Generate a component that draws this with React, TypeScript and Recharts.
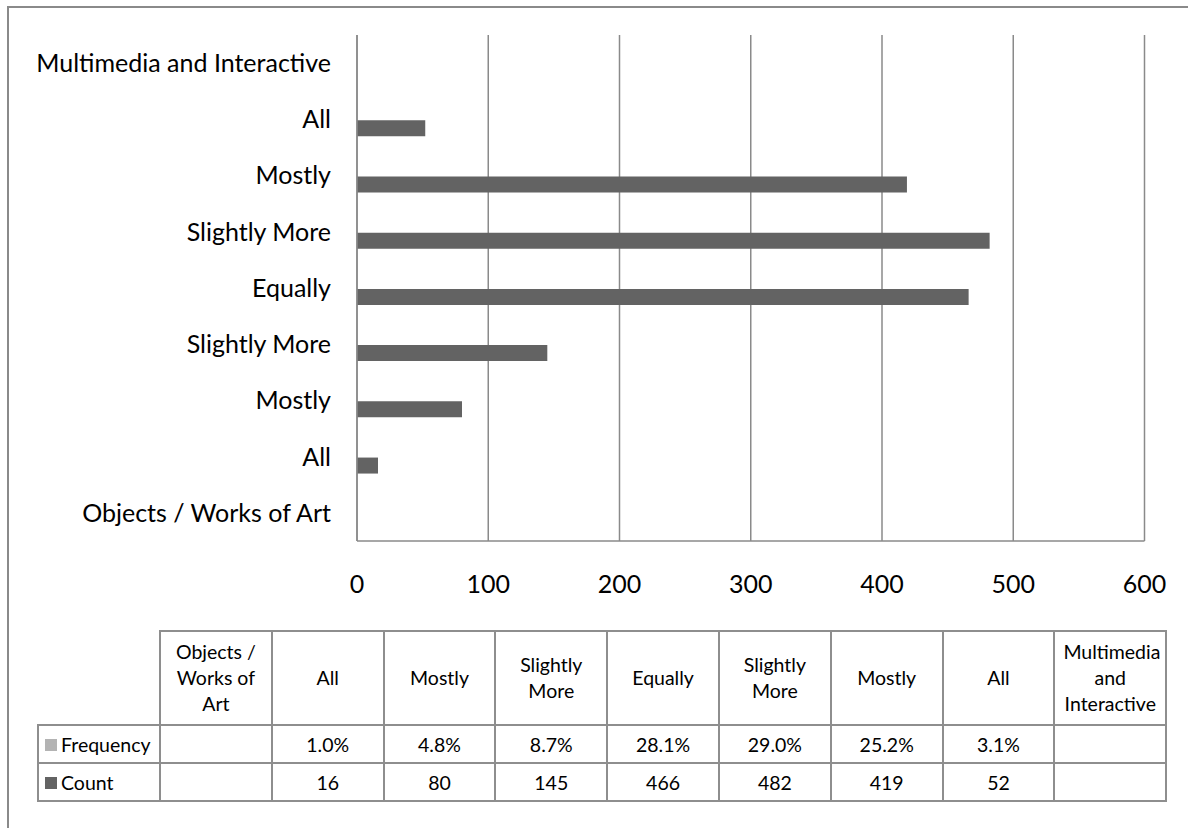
import React from 'react';
import { BarChart, Bar, XAxis, YAxis, CartesianGrid } from 'recharts';

const categories = [
  'Objects / Works of Art',
  'All',
  'Mostly',
  'Slightly More',
  'Equally',
  'Slightly More',
  'Mostly',
  'All',
  'Multimedia and Interactive',
];
const countValues: (number | null)[] = [null, 16, 80, 145, 466, 482, 419, 52, null];
const frequencyValues: (number | null)[] = [null, 0.01, 0.048, 0.087, 0.281, 0.29, 0.252, 0.031, null];
const xTicks = [0, 100, 200, 300, 400, 500, 600];
const seriesNames = ['Frequency', 'Count'];
const seriesColors = ['#b3b3b3', '#636363'];

const data = categories.map((name, i) => ({
  id: i,
  name,
  Frequency: frequencyValues[i],
  Count: countValues[i],
}));

const FONT = 'Lato, "Open Sans", sans-serif';
const GRID = '#8a8a8a';
const cellBorder = '2px solid #8e8e8e';

const fmtFreq = (v: number | null) => (v == null ? '' : (v * 100).toFixed(1) + '%');
const fmtCount = (v: number | null) => (v == null ? '' : String(v));

export default function App() {
  return (
    <div style={{ position: 'absolute', left: 0, top: 0, width: 1188, height: 828, background: '#fff', overflow: 'hidden' }}>
      <div
        style={{
          position: 'absolute',
          left: 7,
          top: 6,
          width: 1200,
          height: 840,
          borderTop: '2px solid #8a8a8a',
          borderLeft: '2px solid #8a8a8a',
        }}
      />
      <div style={{ position: 'absolute', left: 0, top: 0 }}>
        <BarChart
          width={1188}
          height={601}
          data={data}
          layout="vertical"
          margin={{ top: 35, right: 43.5, left: 0, bottom: 0 }}
          barSize={16}
          barGap={1}
        >
          <CartesianGrid horizontal={false} vertical={true} stroke={GRID} strokeWidth={1.5} />
          <XAxis
            type="number"
            domain={[0, 600]}
            ticks={xTicks}
            interval={0}
            height={60}
            axisLine={{ stroke: GRID, strokeWidth: 1.5 }}
            tickLine={false}
            tickSize={0}
            tickMargin={34}
            tick={{ fill: '#000', fontSize: 25, fontFamily: FONT }}
          />
          <YAxis
            type="category"
            dataKey="id"
            reversed
            width={357}
            interval={0}
            tickFormatter={(v: number) => categories[v]}
            axisLine={{ stroke: GRID, strokeWidth: 1.5 }}
            tickLine={false}
            tickSize={0}
            tickMargin={26}
            tick={{ fill: '#000', fontSize: 25, fontFamily: FONT }}
          />
          <Bar dataKey="Frequency" fill={seriesColors[0]} isAnimationActive={false} />
          <Bar dataKey="Count" fill={seriesColors[1]} isAnimationActive={false} />
        </BarChart>
      </div>
      <table
        style={{
          position: 'absolute',
          left: 37,
          top: 630,
          width: 1129,
          borderCollapse: 'collapse',
          tableLayout: 'fixed',
          fontFamily: FONT,
          fontSize: 19.5,
          color: '#000',
        }}
      >
        <colgroup>
          <col style={{ width: 122 }} />
          {categories.map((_, i) => (
            <col key={i} style={{ width: 111.8 }} />
          ))}
        </colgroup>
        <tbody>
          <tr style={{ height: 94 }}>
            <td style={{ border: 'none', padding: 0 }} />
            {categories.map((c, i) => (
              <td
                key={i}
                style={{ border: cellBorder, textAlign: 'center', padding: '0 8px', lineHeight: '26px' }}
              >
                {c}
              </td>
            ))}
          </tr>
          {[frequencyValues, countValues].map((vals, r) => (
            <tr key={r} style={{ height: 38 }}>
              <td style={{ border: cellBorder, padding: '0 0 0 6px', whiteSpace: 'nowrap' }}>
                <span
                  style={{
                    display: 'inline-block',
                    width: 12,
                    height: 12,
                    background: seriesColors[r],
                    marginRight: 4,
                    verticalAlign: 'middle',
                    position: 'relative',
                    top: -2,
                  }}
                />
                {seriesNames[r]}
              </td>
              {vals.map((v, i) => (
                <td key={i} style={{ border: cellBorder, textAlign: 'center', padding: 0 }}>
                  {r === 0 ? fmtFreq(v) : fmtCount(v)}
                </td>
              ))}
            </tr>
          ))}
        </tbody>
      </table>
    </div>
  );
}
